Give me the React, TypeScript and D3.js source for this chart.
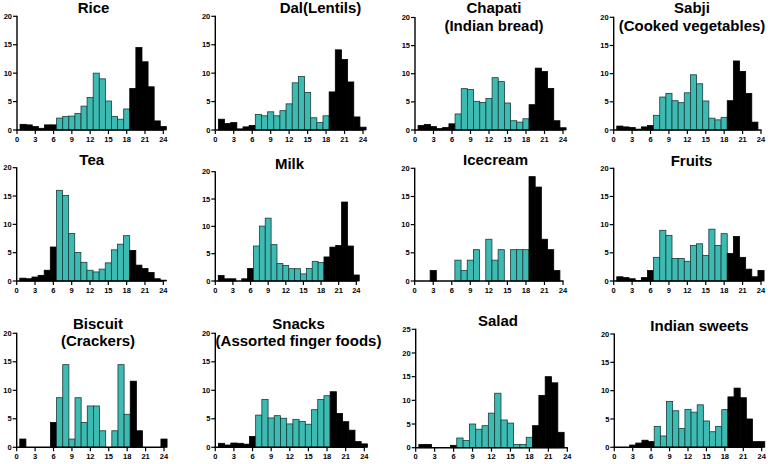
import React from 'react';
import * as d3 from 'd3';

const hours = [1, 2, 3, 4, 5, 6, 7, 8, 9, 10, 11, 12, 13, 14, 15, 16, 17, 18, 19, 20, 21, 22, 23, 24];
const xTicks = [0, 3, 6, 9, 12, 15, 18, 21, 24];

const rice = [1.0, 0.9, 0.6, 0.3, 0.9, 0.9, 2.1, 2.4, 2.45, 2.9, 4.2, 5.7, 10.0, 9.0, 5.1, 2.4, 1.9, 3.7, 7.3, 14.5, 12.0, 7.6, 1.6, 0.6];
const dal = [1.9, 1.15, 1.3, 0.2, 0.55, 0.8, 2.75, 2.5, 3.2, 2.5, 3.4, 4.6, 8.3, 9.4, 6.6, 2.15, 1.3, 2.5, 6.7, 14.1, 12.4, 8.45, 2.3, 0.5];
const chapati = [0.8, 1.0, 0.6, 0.25, 0.45, 1.1, 2.85, 7.35, 7.2, 5.1, 4.9, 5.6, 9.3, 8.6, 4.8, 1.65, 1.4, 2.0, 4.5, 11.0, 10.4, 7.4, 1.65, 0.4];
const sabji = [0.7, 0.55, 0.45, 0.15, 0.55, 0.8, 2.6, 5.85, 6.5, 5.2, 4.85, 6.6, 9.8, 8.2, 5.15, 2.1, 1.8, 2.25, 5.2, 12.25, 10.4, 6.5, 1.4, 0];
const tea = [0.5, 0.4, 0.7, 1.0, 1.9, 6.0, 16.0, 15.1, 8.4, 5.05, 3.3, 1.9, 1.6, 2.1, 3.2, 5.5, 6.5, 8.0, 5.4, 2.8, 2.2, 1.5, 0.4, 0.15];
const milk = [1.0, 0.4, 0.4, 0, 0.4, 2.3, 6.4, 10.05, 11.5, 6.65, 3.2, 2.85, 2.25, 2.25, 1.3, 2.3, 3.6, 3.4, 4.4, 6.2, 6.5, 14.45, 6.4, 1.1];
const icecream = [0, 0, 1.85, 0, 0, 0, 3.7, 1.85, 3.7, 5.56, 0, 7.41, 3.7, 5.56, 0, 5.56, 5.56, 5.56, 18.52, 16.67, 7.41, 5.56, 1.85, 0];
const fruits = [0.75, 0.6, 0.4, 0.1, 0.6, 1.85, 4.2, 9.0, 8.1, 4.0, 4.0, 3.5, 6.3, 6.6, 4.55, 9.2, 6.3, 8.4, 4.9, 7.9, 4.2, 2.1, 0.75, 1.85];
const biscuit = [1.45, 0, 0, 0, 0, 4.35, 8.7, 14.5, 1.45, 8.7, 4.35, 7.25, 7.25, 2.9, 0, 2.9, 14.5, 5.8, 11.6, 2.9, 0, 0, 0, 1.45];
const snacks = [0.7, 0.4, 0.75, 0.7, 0.55, 1.9, 5.65, 8.4, 5.15, 5.55, 5.1, 4.1, 4.9, 4.55, 4.05, 6.6, 8.4, 9.05, 9.75, 5.95, 4.5, 3.0, 1.0, 0.6];
const salad = [0.7, 0.7, 0, 0, 0, 0.5, 2.05, 1.5, 5.0, 3.9, 4.65, 7.3, 11.5, 5.85, 5.2, 0.7, 0.7, 2.2, 4.65, 11.05, 15.0, 13.7, 3.25, 0];
const sweets = [0, 0, 0.4, 0.75, 1.25, 1.0, 3.7, 2.0, 8.1, 6.45, 3.3, 6.7, 6.2, 7.5, 4.65, 2.75, 3.7, 6.65, 8.9, 10.45, 8.75, 5.0, 1.0, 1.0];

const seriesList = [rice, dal, chapati, sabji, tea, milk, icecream, fruits, biscuit, snacks, salad, sweets];
const titles = [
  ['Rice'], ['Dal(Lentils)'], ['Chapati', '(Indian bread)'], ['Sabji', '(Cooked vegetables)'],
  ['Tea'], ['Milk'], ['Icecream'], ['Fruits'],
  ['Biscuit', '(Crackers)'], ['Snacks', '(Assorted finger foods)'], ['Salad'], ['Indian sweets'],
];
const yMaxes = [20, 20, 20, 20, 20, 20, 20, 20, 20, 20, 25, 20];
const dayStart = 7;
const dayEnd = 18;

// layout: axis origin x, x at 24, y at max, y at 0, title x, title baselines
const layout = [
  { x0: 17, x1: 163.3, yt: 16.3, yb: 130, tx: 93.5, ty: [12.7] },
  { x0: 215.3, x1: 363, yt: 16.3, yb: 130, tx: 320.5, ty: [12.7] },
  { x0: 415, x1: 563, yt: 17.5, yb: 130, tx: 494, ty: [12.7, 31] },
  { x0: 613.7, x1: 761, yt: 17.3, yb: 130, tx: 692, ty: [12.7, 31] },
  { x0: 16.7, x1: 163.3, yt: 167.7, yb: 281, tx: 91.7, ty: [165] },
  { x0: 215.3, x1: 356.3, yt: 171.7, yb: 281, tx: 289.5, ty: [169.3] },
  { x0: 414.7, x1: 563, yt: 168.3, yb: 281, tx: 495.5, ty: [165] },
  { x0: 613.7, x1: 761, yt: 168.3, yb: 281, tx: 691.5, ty: [165.5] },
  { x0: 16.7, x1: 164, yt: 333.3, yb: 447.3, tx: 98, ty: [329, 346] },
  { x0: 215.3, x1: 364.3, yt: 333.3, yb: 447.3, tx: 298.5, ty: [329, 346] },
  { x0: 415.7, x1: 567.3, yt: 329.3, yb: 447.7, tx: 498, ty: [325.7] },
  { x0: 614.3, x1: 761.7, yt: 334, yb: 447.3, tx: 699.5, ty: [331] },
];

const TEAL = '#3dbab2';
const EDGE = '#1b3b39';
const FONT = '"Liberation Sans", Arial, Helvetica, sans-serif';

function Panel({ idx }: { idx: number }) {
  const L = layout[idx];
  const values = seriesList[idx];
  const ymax = yMaxes[idx];
  const x = d3.scaleLinear().domain([0, 24]).range([L.x0, L.x1]);
  const y = d3.scaleLinear().domain([0, ymax]).range([L.yb, L.yt]);
  const yTicks = d3.range(0, ymax + 1, 5);
  return (
    <g>
      {titles[idx].map((t, i) => (
        <text key={i} x={L.tx} y={L.ty[i]} textAnchor="middle" fontFamily={FONT} fontWeight="bold" fontSize={15} fill="#000">{t}</text>
      ))}
      {hours.map((h, i) => {
        const v = values[i];
        if (!v) return null;
        const isDay = h >= dayStart && h <= dayEnd;
        const xa = x(h - 0.5);
        const xb = x(h + 0.5);
        return (
          <rect key={h} x={xa} y={y(v)} width={xb - xa} height={L.yb - y(v)}
            fill={isDay ? TEAL : '#000'} stroke={isDay ? EDGE : '#000'} strokeWidth={0.8} />
        );
      })}
      <line x1={L.x0} x2={L.x0} y1={L.yt - 0.5} y2={L.yb} stroke="#000" strokeWidth={1.4} />
      <line x1={L.x0 - 0.7} x2={L.x1 + 0.5} y1={L.yb} y2={L.yb} stroke="#000" strokeWidth={1.4} />
      {yTicks.map((t) => (
        <g key={t}>
          <line x1={L.x0 - 4} x2={L.x0} y1={y(t)} y2={y(t)} stroke="#000" strokeWidth={1.2} />
          <text x={L.x0 - 5} y={y(t) + 2.6} textAnchor="end" fontFamily={FONT} fontWeight="bold" fontSize={7.5} fill="#000">{t}</text>
        </g>
      ))}
      {xTicks.map((t) => (
        <g key={t}>
          <line x1={x(t)} x2={x(t)} y1={L.yb} y2={L.yb + 4} stroke="#000" strokeWidth={1.2} />
          <text x={x(t)} y={L.yb + 11.5} textAnchor="middle" fontFamily={FONT} fontWeight="bold" fontSize={7.5} fill="#000">{t}</text>
        </g>
      ))}
    </g>
  );
}

export default function App() {
  return (
    <svg width={768} height={464} style={{ position: 'absolute', left: 0, top: 0, background: '#fff' }}>
      <rect x={0} y={0} width={768} height={464} fill="#fff" />
      {seriesList.map((_, i) => <Panel key={i} idx={i} />)}
    </svg>
  );
}
